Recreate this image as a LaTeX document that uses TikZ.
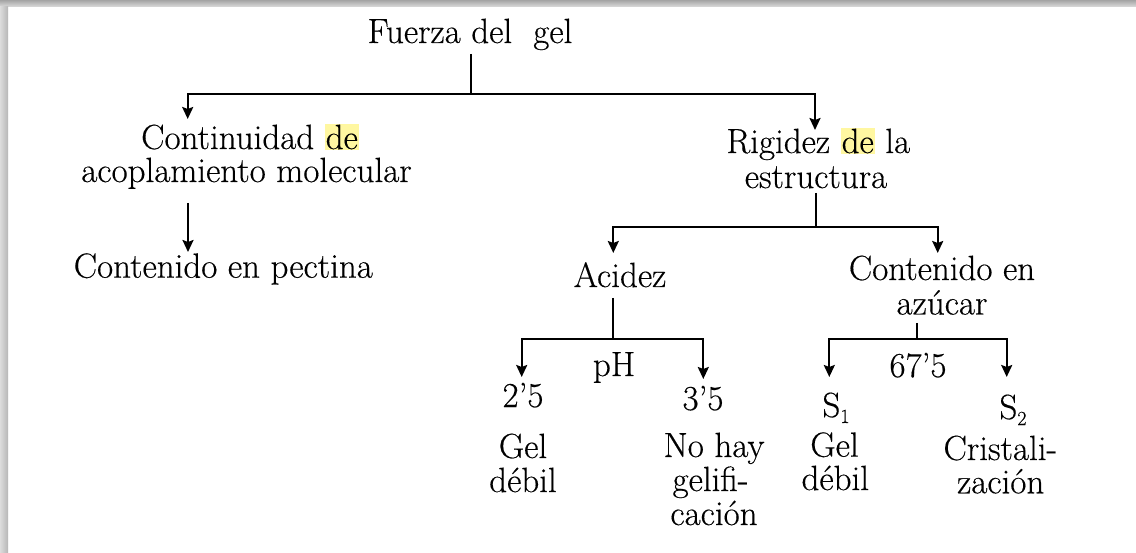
\documentclass[tikz,border=0pt]{standalone}
\usepackage{fontspec}
\setmainfont{Latin Modern Roman}[FakeBold=0.35]
\usetikzlibrary{arrows.meta}
\definecolor{hly}{HTML}{FFF7A1}
\definecolor{shdark}{HTML}{A4A4A4}
\definecolor{shlight}{HTML}{DCDCDC}
\newcommand\hlword[1]{{\setlength\fboxsep{1pt}\colorbox{hly}{#1}}}
\newcommand\subidx[1]{\raisebox{-6pt}{\fontsize{20}{20}\selectfont #1}}
\begin{document}
\begin{tikzpicture}[x=1pt,y=-1pt,
  lbl/.style={inner sep=0pt,anchor=base,text height=24pt,text depth=6pt,font=\fontsize{35}{36}\selectfont},
  ln/.style={line width=2.2pt,line join=miter},
  arr/.style={ln,-{Stealth[length=12pt,width=11pt,inset=2pt]}}]
\useasboundingbox[fill=white] (0,0) rectangle (1136,553);
% shadow bands
\shade[top color=shdark,bottom color=shlight] (0,0) rectangle (1136,7);
\shade[left color=shlight,right color=shdark!80] (0,7) rectangle (8,553);

% nodes
\node[lbl] (fuerza) at (470,43) {Fuerza del\ \ gel};
\node[lbl] (cont1) at (250,149) {Continuidad \hlword{de}};
\node[lbl] (cont2) at (246.5,182) {acoplamiento molecular};
\node[lbl] (pect) at (223.3,277.7) {Contenido en pectina};
\node[lbl] (rig1) at (818.3,153) {Rigidez \hlword{de} la};
\node[lbl] (rig2) at (816,188) {estructura};
\node[lbl] (acid) at (620,287) {Acidez};
\node[lbl] (cazu1) at (942,280) {Contenido en};
\node[lbl] (cazu2) at (942,314.5) {azúcar};
\node[lbl] (ph) at (614,376) {pH};
\node[lbl] (v25) at (523,407) {2’5};
\node[lbl] (v35) at (703,410) {3’5};
\node[lbl] (gda) at (523,458) {Gel};
\node[lbl] (gdb) at (523,492) {débil};
\node[lbl] (nha) at (714,457) {No hay};
\node[lbl] (nhb) at (710.5,491) {gelifi-};
\node[lbl] (nhc) at (714,525) {cación};
\node[lbl] (v675) at (918,377) {67’5};
\node[lbl] (s1) at (836,417) {S\subidx{1}};
\node[lbl] (s2) at (1013,419) {S\subidx{2}};
\node[lbl] (gea) at (834.5,456.7) {Gel};
\node[lbl] (geb) at (835.3,490) {débil};
\node[lbl] (cra) at (1000.3,460) {Cristali-};
\node[lbl] (crb) at (1000.7,493.3) {zación};

% junctions and arrow ends
\coordinate (t0) at (471,54);
\coordinate (j1) at (471,94.3);
\coordinate (e1) at (187.7,119);
\coordinate (e2) at (815,130);
\coordinate (q0) at (188,203);
\coordinate (q1) at (188,252);
\coordinate (r0) at (815.7,193);
\coordinate (j2) at (815.7,226.7);
\coordinate (e3) at (613.3,253);
\coordinate (e4) at (937.7,253);
\coordinate (a0) at (613.3,298);
\coordinate (j3) at (613.3,339.3);
\coordinate (e5) at (521.7,377);
\coordinate (e6) at (703.3,379);
\coordinate (z0) at (916.7,323);
\coordinate (j4) at (916.7,339.3);
\coordinate (e7) at (829.3,377);
\coordinate (e8) at (1006.7,377);

% connectors
\draw[ln] (t0) -- (j1);
\draw[arr] (j1) -| (e1);
\draw[arr] (j1) -| (e2);
\draw[arr] (q0) -- (q1);
\draw[ln] (r0) -- (j2);
\draw[arr] (j2) -| (e3);
\draw[arr] (j2) -| (e4);
\draw[ln] (a0) -- (j3);
\draw[arr] (j3) -| (e5);
\draw[arr] (j3) -| (e6);
\draw[ln] (z0) -- (j4);
\draw[arr] (j4) -| (e7);
\draw[arr] (j4) -| (e8);
\end{tikzpicture}
\end{document}
